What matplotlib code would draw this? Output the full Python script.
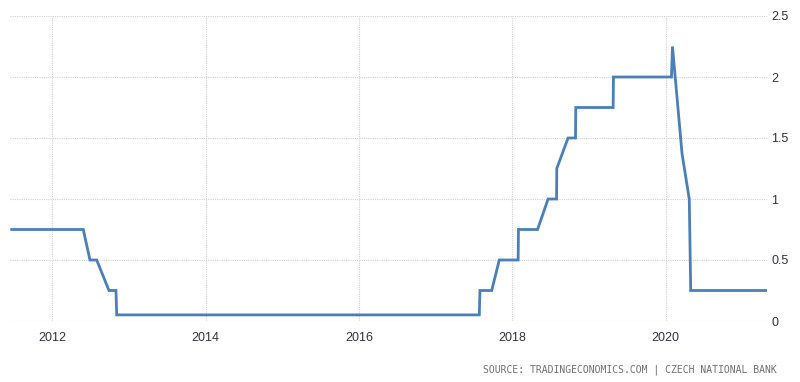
import matplotlib
matplotlib.use("Agg")
import matplotlib.pyplot as plt

# Czech repo rate (%) - vertices, x in decimal years
years = [2011.470, 2012.404, 2012.491, 2012.579, 2012.739, 2012.830, 2012.840,
         2017.569, 2017.578, 2017.731, 2017.830, 2018.076, 2018.080, 2018.329,
         2018.467, 2018.577, 2018.580, 2018.727, 2018.824, 2018.828, 2019.315,
         2019.319, 2020.076, 2020.089, 2020.214, 2020.308, 2020.327, 2021.336]
rates = [0.75, 0.75, 0.50, 0.50, 0.25, 0.25, 0.05,
         0.05, 0.25, 0.25, 0.50, 0.50, 0.75, 0.75,
         1.00, 1.00, 1.25, 1.50, 1.50, 1.75, 1.75,
         2.00, 2.00, 2.25, 1.37, 1.00, 0.25, 0.25]

x_ticks = [2012, 2014, 2016, 2018, 2020]
x_tick_labels = ["2012", "2014", "2016", "2018", "2020"]
y_ticks = [0, 0.5, 1, 1.5, 2, 2.5]
y_tick_labels = ["0", "0.5", "1", "1.5", "2", "2.5"]
source_text = "SOURCE: TRADINGECONOMICS.COM | CZECH NATIONAL BANK"

W, H = 800, 382
fig = plt.figure(figsize=(W / 100, H / 100), dpi=100)
left, right, top, bottom = 10, 767, 16, 321
ax = fig.add_axes([left / W, (H - bottom) / H, (right - left) / W, (bottom - top) / H])

ax.plot(years, rates, color="#4a7fb8", linewidth=2.0, solid_joinstyle="miter")

ax.set_xlim(2011.448, 2021.322)
ax.set_ylim(0, 2.5)

ax.set_xticks(x_ticks)
ax.set_xticklabels(x_tick_labels)
ax.set_yticks(y_ticks)
ax.set_yticklabels(y_tick_labels)
ax.yaxis.tick_right()

for lab in ax.get_xticklabels() + ax.get_yticklabels():
    lab.set_fontfamily("Liberation Sans")
    lab.set_fontsize(9)
    lab.set_color("#333340")

ax.tick_params(axis="both", length=0)
ax.tick_params(axis="x", pad=8)
ax.tick_params(axis="y", pad=3)

ax.grid(True, color="#d2d2d2", linestyle=(0, (1, 1)), linewidth=0.8)
ax.set_axisbelow(True)
for s in ax.spines.values():
    s.set_visible(False)

fig.text(777 / W, 1 - 370 / H, source_text, ha="right", va="center",
         fontfamily="DejaVu Sans Mono", fontsize=7.05, color="#707070")

fig.savefig("out.png", dpi=100, facecolor="white")
